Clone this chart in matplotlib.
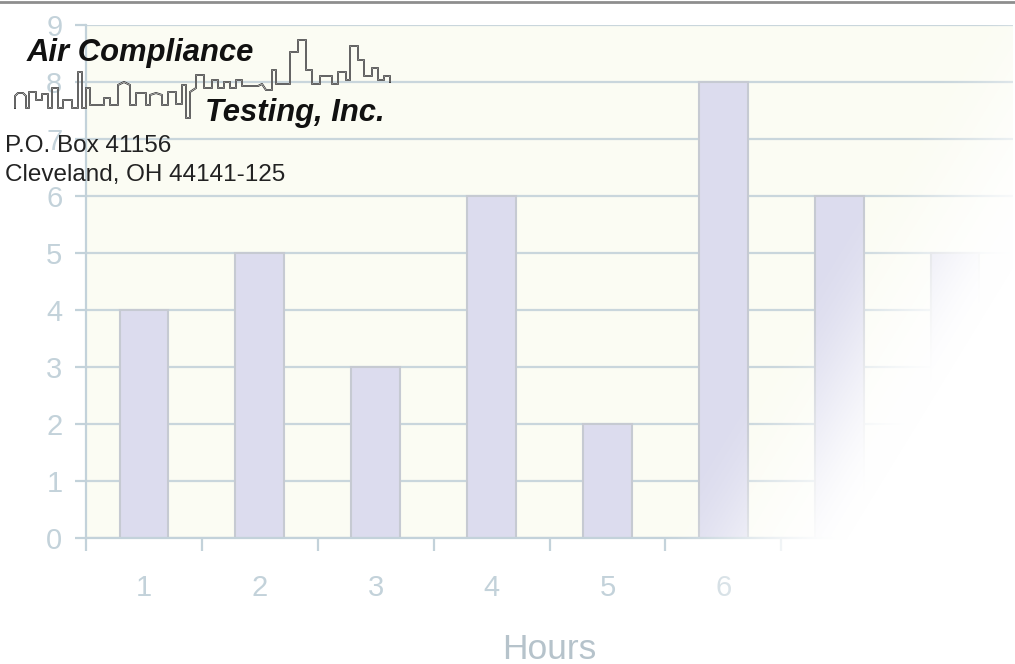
import numpy as np
import matplotlib
matplotlib.use("Agg")
import matplotlib.pyplot as plt
from matplotlib.ticker import FixedLocator

# data
hours = [1, 2, 3, 4, 5, 6, 7, 8]
counts = [4, 5, 3, 6, 2, 8, 6, 5]
hour_labels = ["1", "2", "3", "4", "5", "6", "", ""]
y_ticks = [0, 1, 2, 3, 4, 5, 6, 7, 8, 9]

company_1 = "Air Compliance"
company_2 = "Testing, Inc."
address = ["P.O. Box 41156", "Cleveland, OH 44141-125"]

W, H = 1015, 664
plt.rcParams['font.family'] = ['Liberation Sans', 'DejaVu Sans']
fig = plt.figure(figsize=(W / 100, H / 100), dpi=100)
fig.patch.set_facecolor("white")

faint = "#c3d2da"
ax = fig.add_axes([86 / W, 1 - 538 / H, 927 / W, 513 / H])
ax.set_facecolor("#fbfcf3")
ax.bar(hours, counts, width=0.42, color="#dcdcee", edgecolor="#c6cad2", linewidth=1.5, zorder=3)
ax.set_xlim(0.5, 8.5)
ax.set_ylim(0, 9)
ax.set_yticks(y_ticks)
ax.yaxis.grid(True, color="#c9d6dc", linewidth=1.6, zorder=1)
ax.set_axisbelow(True)
for s in ["top", "right"]:
    ax.spines[s].set_visible(False)
for s in ["left", "bottom"]:
    ax.spines[s].set_color(faint)
    ax.spines[s].set_linewidth(1.6)
    ax.spines[s].set_zorder(4)
ax.set_xticks(hours)
ax.set_xticklabels(hour_labels)
ax.xaxis.set_minor_locator(FixedLocator(np.arange(0.5, 9, 1.0)))
ax.tick_params(axis="x", which="major", length=0, pad=26, labelsize=21, labelcolor=faint)
ax.tick_params(axis="x", which="minor", length=9, width=1.6, color=faint)
ax.tick_params(axis="y", length=8, width=1.6, color=faint, pad=9, labelsize=21, labelcolor=faint)
ax.set_xlabel("Hours", fontsize=25.5, color="#b6c3cb", labelpad=22)

# fade to white towards the lower right
ov = fig.add_axes([0, 0, 1, 1], zorder=5)
ov.axis("off")
xx, yy = np.meshgrid(np.linspace(0, 1, W), np.linspace(0, 1, H))
g = np.clip(5.0 * xx + 2.0 * np.minimum(yy, 0.82) - 4.8, 0, 1)
img = np.ones((H, W, 4))
img[..., 3] = g * g * (3 - 2 * g)
ov.imshow(img, extent=[0, 1, 0, 1], aspect="auto", origin="upper")
ov.set_xlim(0, 1)
ov.set_ylim(0, 1)

# top rule
fig.add_artist(plt.Line2D([0, 1], [1 - 1.5 / H, 1 - 1.5 / H], color="#8e8e8e", linewidth=2, zorder=10))

# logo skyline
sky = [(15,108),(15,96),(18,93),(23,93),(26,96),(26,108),(29,108),(29,92),(36,92),(36,100),(42,100),(42,94),
       (48,94),(48,108),(52,108),(52,88),(58,88),(58,108),(63,108),(63,100),(72,100),(72,108),(78,108),(78,72),
       (82,72),(82,108),(86,108),(86,88),(90,88),(90,105),(104,105),(104,98),(110,98),(110,105),(118,105),
       (118,85),(124,82),(130,85),(130,105),(136,105),(136,93),(146,93),(146,105),(150,105),(150,95),(156,93),
       (162,95),(162,105),(168,105),(168,92),(176,92),(176,104),(182,104),(182,85),(186,85),(186,118),(190,118),
       (190,92),(196,88),(196,75),(204,75),(204,88),(212,88),(212,80),(218,80),(218,88),(224,88),(224,82),
       (230,82),(230,88),(236,88),(236,80),(242,80),(242,86),(258,86),(262,84),(266,90),(272,90),(272,70),
       (276,70),(276,84),(290,84),(290,52),(298,52),(298,40),(306,40),(306,70),(312,70),(312,84),(320,84),
       (320,76),(332,76),(332,84),(338,84),(338,72),(346,72),(346,80),(350,80),(350,46),(358,46),(358,60),
       (364,60),(364,76),(372,76),(372,68),(378,68),(378,80),(384,80),(384,76),(390,76),(390,82)]
sx = [p[0] / W for p in sky]
sy = [1 - p[1] / H for p in sky]
ov.plot(sx, sy, color="#2a2a2a", linewidth=1.4, solid_joinstyle="round", zorder=6)
ov.plot(sx, sy, color="#f4f4f4", linewidth=0.4, solid_joinstyle="round", zorder=7)

fig.text(27 / W, 1 - 53 / H, company_1, fontsize=22.3, fontweight="bold", fontstyle="italic",
         color="#111111", va="center", ha="left", zorder=11)
fig.text(385 / W, 1 - 113 / H, company_2, fontsize=22.3, fontweight="bold", fontstyle="italic",
         color="#111111", va="center", ha="right", zorder=11)
fig.text(5 / W, 1 - 146 / H, address[0], fontsize=17.5, color="#222222", va="center", ha="left", zorder=11)
fig.text(5 / W, 1 - 175 / H, address[1], fontsize=17.5, color="#222222", va="center", ha="left", zorder=11)

fig.savefig("out.png", dpi=100)
